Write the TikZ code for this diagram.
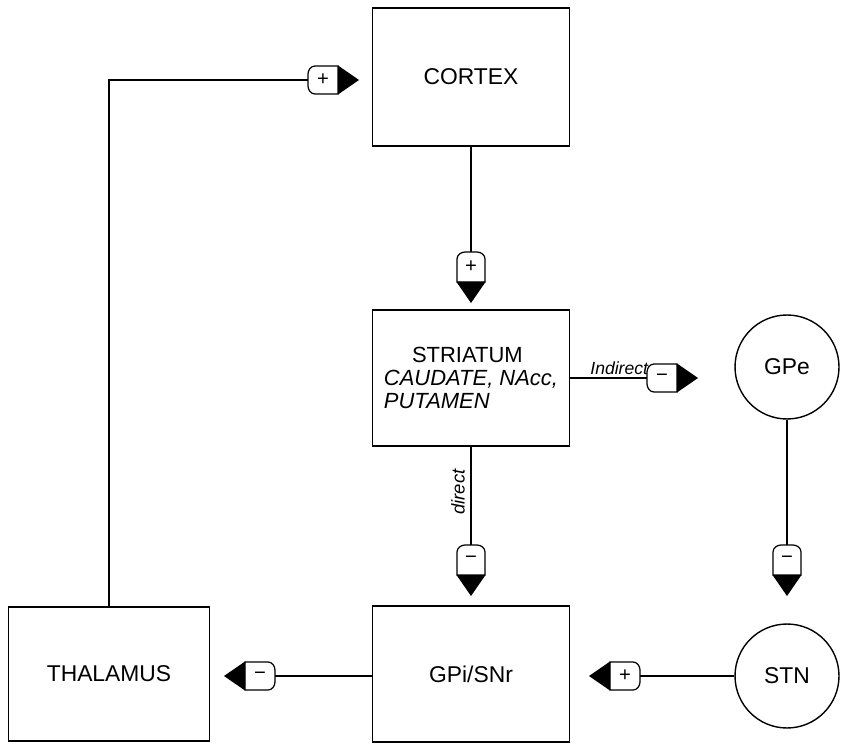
\documentclass[tikz,border=0pt]{standalone}
\usepackage{fontspec}
\setmainfont{Liberation Sans}
\usepackage{tikz}

\tikzset{
  region/.style={draw, line width=0.9pt, minimum width=3.94cm, minimum height=2.72cm, inner sep=0pt},
  nucleus/.style={draw, circle, line width=0.8pt, minimum size=2.08cm, inner sep=0pt},
  pics/syn/.style={code={
    \draw[fill=white] (30,14) -- (7,14) .. controls (3,14) and (0,10) .. (0,6)
      -- (0,-6) .. controls (0,-10) and (3,-14) .. (7,-14) -- (30,-14) -- cycle;
    \fill (30,14.5) -- (51,0) -- (30,-14.5) -- cycle;
    \node[inner sep=0pt, font=\fontsize{11.5}{11.5}\selectfont] at (15,0) {#1};
  }}
}

\begin{document}
\begin{tikzpicture}[x=0.02cm,y=0.02cm,line width=0.7pt,font=\fontsize{13}{15}\selectfont]
\useasboundingbox (0,0) rectangle (864,744);
\node[region, minimum height=2.76cm] (cortex) at (471,667) {CORTEX};
\node[region, align=left, font=\fontsize{12.5}{13}\selectfont] (striatum) at (471,366)
  {\hspace*{16pt}STRIATUM\\\textit{CAUDATE, NAcc,}\\\textit{PUTAMEN}};
\node[region] (gpi) at (471,70) {GPi/SNr};
\node[region, minimum width=4.02cm, minimum height=2.68cm] (thalamus) at (109,70) {THALAMUS};
\node[nucleus] (gpe) at (787,377) {GPe};
\node[nucleus] (stn) at (787,68) {STN};

\coordinate (s1) at (471,492);
\coordinate (s2) at (308,664);
\coordinate (s3) at (647,366);
\coordinate (s4) at (471,199);
\coordinate (s5) at (787,199);
\coordinate (s6) at (640,68);
\coordinate (s7) at (275,68);

\draw (cortex) -- (s1);
\draw (thalamus) |- (s2);
\draw (striatum.east |- s3) -- (s3);
\draw (striatum) -- (s4);
\draw (gpe) -- (s5);
\draw (stn) -- (s6);
\draw (gpi.west |- s7) -- (s7);

\pic[rotate=-90] at (s1) {syn=+};
\pic at (s2) {syn=+};
\pic at (s3) {syn=−};
\pic[rotate=-90] at (s4) {syn=−};
\pic[rotate=-90] at (s5) {syn=−};
\pic[rotate=180] at (s6) {syn=+};
\pic[rotate=180] at (s7) {syn=−};

\node[anchor=south west, inner sep=1pt, font=\fontsize{10}{12}\itshape] (indlabel) at (588,367) {Indirect};
\node[rotate=90, anchor=south, inner sep=2pt, font=\fontsize{10.5}{12}\itshape] (dirlabel) at (469,252) {direct};
\end{tikzpicture}
\end{document}
